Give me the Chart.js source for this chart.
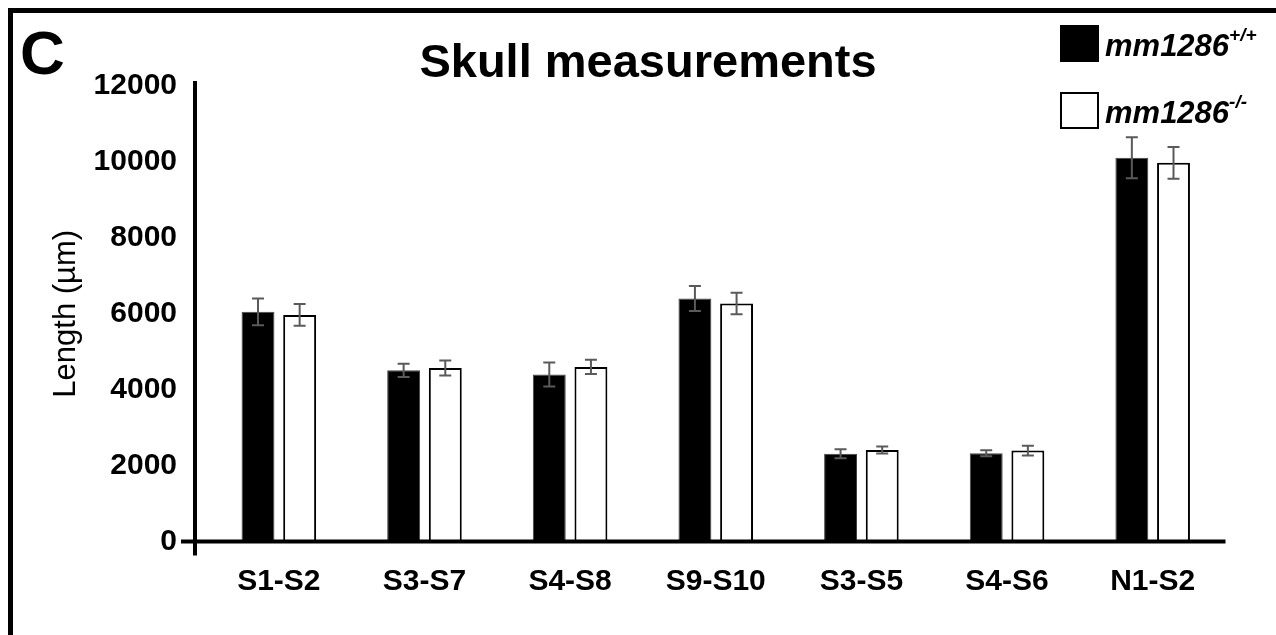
<!DOCTYPE html>
<html>
<head>
<meta charset="utf-8">
<script src="https://cdn.jsdelivr.net/npm/chart.js@4.4.1/dist/chart.umd.min.js"></script>
<style>
  body { margin: 0; background: #fff; }
  #wrap { width: 1276px; height: 635px; position: relative; }
</style>
</head>
<body>
<div id="wrap"><canvas id="skullChart" width="1276" height="635"></canvas></div>
<script>
// data
const categories = ['S1-S2', 'S3-S7', 'S4-S8', 'S9-S10', 'S3-S5', 'S4-S6', 'N1-S2'];
const wildType = [6050, 4510, 4400, 6400, 2310, 2325, 10110];
const wildTypeErr = [350, 175, 315, 330, 120, 80, 540];
const mutant = [5970, 4570, 4600, 6270, 2410, 2395, 9975];
const mutantErr = [285, 200, 190, 285, 90, 130, 420];
const genotypes = ['mm1286', 'mm1286'];
const genotypeSup = ['+/+', '-/-'];

const FONT = "'Liberation Sans', Arial, Helvetica, sans-serif";
Chart.defaults.font.family = FONT;
Chart.defaults.color = '#000';

// error bars, axes lines, title, panel letter, legend
const decorations = {
    id: 'decorations',
    afterDatasetsDraw(chart) {
        const ctx = chart.ctx;
        const y = chart.scales.y;
        const area = chart.chartArea;

        // error bars
        ctx.save();
        ctx.strokeStyle = '#5a5a5a';
        ctx.lineWidth = 2;
        chart.data.datasets.forEach((ds, i) => {
            const meta = chart.getDatasetMeta(i);
            meta.data.forEach((bar, j) => {
                const top = y.getPixelForValue(ds.data[j] + ds.errors[j]);
                const bot = y.getPixelForValue(ds.data[j] - ds.errors[j]);
                ctx.beginPath();
                ctx.moveTo(bar.x, top);
                ctx.lineTo(bar.x, bot);
                ctx.moveTo(bar.x - 6, top);
                ctx.lineTo(bar.x + 6, top);
                ctx.moveTo(bar.x - 6, bot);
                ctx.lineTo(bar.x + 6, bot);
                ctx.stroke();
            });
        });
        ctx.restore();

        // axes
        const zero = y.getPixelForValue(0);
        const axisX = area.left - 11;
        ctx.save();
        ctx.strokeStyle = '#000';
        ctx.lineWidth = 4;
        ctx.beginPath();
        ctx.moveTo(axisX, y.getPixelForValue(12000) - 5);
        ctx.lineTo(axisX, zero + 14);
        ctx.moveTo(axisX - 14, zero);
        ctx.lineTo(area.right, zero);
        ctx.stroke();
        ctx.restore();
    },
    afterDraw(chart) {
        const ctx = chart.ctx;
        ctx.save();
        // frame (top and left edges visible)
        ctx.strokeStyle = '#000';
        ctx.lineWidth = 5;
        ctx.beginPath();
        ctx.moveTo(10.5, 640);
        ctx.lineTo(10.5, 10.5);
        ctx.lineTo(1280, 10.5);
        ctx.stroke();

        ctx.fillStyle = '#000';
        ctx.textBaseline = 'alphabetic';
        ctx.font = 'bold 62px ' + FONT;
        ctx.textAlign = 'left';
        ctx.fillText('C', 20, 74);

        ctx.font = 'bold 47px ' + FONT;
        ctx.textAlign = 'center';
        ctx.fillText('Skull measurements', 648, 77);

        // legend
        const boxes = [[1060, 25], [1060, 92]];
        chart.data.datasets.forEach((ds, i) => {
            const [bx, by] = boxes[i];
            ctx.fillStyle = ds.backgroundColor;
            ctx.fillRect(bx, by, 39, 37);
            if (ds.backgroundColor !== '#000') {
                ctx.strokeStyle = '#000';
                ctx.lineWidth = 2;
                ctx.strokeRect(bx + 1, by + 1, 37, 35);
            }
            ctx.fillStyle = '#000';
            ctx.textAlign = 'left';
            ctx.font = 'italic bold 31px ' + FONT;
            ctx.fillText(genotypes[i], 1105, by + 31);
            const w = ctx.measureText(genotypes[i]).width;
            ctx.font = 'italic bold 19px ' + FONT;
            ctx.fillText(genotypeSup[i], 1105 + w, by + 16);
        });
        ctx.restore();
    }
};

const ctx = document.getElementById('skullChart').getContext('2d');
new Chart(ctx, {
    type: 'bar',
    data: {
        labels: categories,
        datasets: [{
            label: genotypes[0] + genotypeSup[0],
            data: wildType,
            errors: wildTypeErr,
            backgroundColor: '#000',
            borderColor: '#444',
            borderWidth: 1,
            categoryPercentage: 0.572,
            barPercentage: 0.79
        }, {
            label: genotypes[1] + genotypeSup[1],
            data: mutant,
            errors: mutantErr,
            backgroundColor: '#fff',
            borderColor: '#000',
            borderWidth: 2,
            categoryPercentage: 0.572,
            barPercentage: 0.79
        }]
    },
    options: {
        responsive: false,
        animation: false,
        layout: { padding: { left: 0, right: 50.5, top: 86, bottom: 0 } },
        plugins: {
            legend: { display: false },
            title: { display: false },
            tooltip: { enabled: false }
        },
        scales: {
            x: {
                grid: { display: false, drawTicks: false },
                border: { display: false },
                ticks: {
                    font: { size: 30, weight: 'bold' },
                    padding: 22,
                    maxRotation: 0,
                    autoSkip: false
                },
                afterFit(scale) { scale.height = 93.5; }
            },
            y: {
                min: 0,
                max: 12000,
                grid: { display: false, drawTicks: false },
                border: { display: false },
                ticks: {
                    stepSize: 2000,
                    font: { size: 30, weight: 'bold' },
                    padding: 29,
                    callback: (value) => String(value)
                },
                title: {
                    display: true,
                    text: 'Length (\u00b5m)',
                    font: { size: 31, weight: 'normal' },
                    padding: { top: 48, bottom: 0 }
                },
                afterFit(scale) { scale.width = 206; }
            }
        }
    },
    plugins: [decorations]
});
</script>
</body>
</html>
